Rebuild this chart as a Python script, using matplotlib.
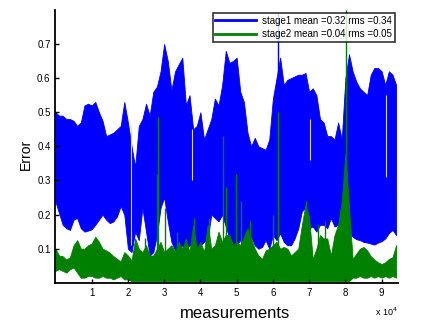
import numpy as np
import matplotlib
matplotlib.use("Agg")
import matplotlib.pyplot as plt
from matplotlib.lines import Line2D
from matplotlib.ticker import FuncFormatter

plt.rcParams['font.family'] = ['Liberation Sans', 'DejaVu Sans']

# sample positions (measurements), every 1000
measurements = np.arange(0, 95000, 1000)

stage1_upper = [0.50, 0.49, 0.49, 0.48, 0.48, 0.475, 0.46, 0.47, 0.52, 0.525,
                0.52, 0.53, 0.50, 0.475, 0.43, 0.435, 0.44, 0.45, 0.46, 0.53,
                0.47, 0.40, 0.34, 0.46, 0.48, 0.525, 0.49, 0.56, 0.575, 0.62,
                0.70, 0.65, 0.565, 0.62, 0.64, 0.66, 0.52, 0.55, 0.45, 0.46,
                0.50, 0.42, 0.45, 0.48, 0.54, 0.52, 0.58, 0.68, 0.645, 0.65,
                0.66, 0.56, 0.53, 0.44, 0.40, 0.425, 0.40, 0.395, 0.39, 0.42,
                0.54, 0.60, 0.66, 0.58, 0.595, 0.60, 0.605, 0.61, 0.61, 0.615,
                0.56, 0.57, 0.55, 0.48, 0.47, 0.43, 0.43, 0.42, 0.47, 0.42,
                0.60, 0.67, 0.62, 0.59, 0.57, 0.56, 0.55, 0.61, 0.63, 0.63,
                0.62, 0.58, 0.62, 0.61, 0.58]
stage1_lower = [0.238, 0.204, 0.17, 0.16, 0.155, 0.185, 0.19, 0.16, 0.15, 0.153,
                0.157, 0.17, 0.185, 0.20, 0.185, 0.175, 0.18, 0.195, 0.225, 0.20,
                0.10, 0.09, 0.15, 0.125, 0.22, 0.15, 0.08, 0.09, 0.14, 0.22,
                0.25, 0.18, 0.12, 0.095, 0.09, 0.11, 0.10, 0.11, 0.11, 0.10,
                0.11, 0.12, 0.13, 0.20, 0.19, 0.18, 0.20, 0.165, 0.13, 0.10,
                0.11, 0.125, 0.12, 0.12, 0.135, 0.11, 0.10, 0.105, 0.125, 0.10,
                0.14, 0.125, 0.145, 0.12, 0.11, 0.11, 0.13, 0.16, 0.21, 0.22,
                0.16, 0.165, 0.15, 0.17, 0.17, 0.16, 0.19, 0.165, 0.17, 0.19,
                0.17, 0.15, 0.135, 0.128, 0.125, 0.12, 0.118, 0.115, 0.112, 0.118,
                0.122, 0.13, 0.146, 0.155, 0.14]
stage2_upper = [0.10, 0.08, 0.078, 0.068, 0.075, 0.11, 0.125, 0.10, 0.10, 0.11,
                0.115, 0.135, 0.12, 0.10, 0.095, 0.088, 0.078, 0.07, 0.063, 0.09,
                0.08, 0.065, 0.13, 0.10, 0.09, 0.11, 0.08, 0.08, 0.10, 0.12,
                0.09, 0.10, 0.11, 0.09, 0.12, 0.10, 0.13, 0.09, 0.17, 0.10,
                0.12, 0.09, 0.17, 0.10, 0.11, 0.15, 0.12, 0.14, 0.14, 0.11,
                0.12, 0.11, 0.135, 0.16, 0.13, 0.10, 0.08, 0.07, 0.095, 0.10,
                0.11, 0.12, 0.10, 0.105, 0.10, 0.08, 0.09, 0.10, 0.17, 0.23,
                0.19, 0.07, 0.10, 0.14, 0.13, 0.13, 0.08, 0.14, 0.17, 0.24,
                0.38, 0.22, 0.07, 0.085, 0.10, 0.105, 0.095, 0.078, 0.068, 0.06,
                0.055, 0.06, 0.07, 0.075, 0.11]
stage2_lower = [0.035, 0.04, 0.035, 0.03, 0.04, 0.045, 0.03, 0.015, 0.015, 0.02,
                0.02, 0.015, 0.015, 0.02, 0.015, 0.015, 0.01, 0.015, 0.02, 0.01,
                0.01, 0.005, 0.005, 0.005, 0.005, 0.005, 0.005, 0.005, 0.005, 0.005,
                0.005, 0.005, 0.005, 0.005, 0.005, 0.005, 0.005, 0.005, 0.005, 0.005,
                0.005, 0.005, 0.005, 0.005, 0.005, 0.005, 0.005, 0.005, 0.005, 0.005,
                0.005, 0.005, 0.005, 0.005, 0.005, 0.005, 0.005, 0.005, 0.005, 0.005,
                0.005, 0.005, 0.005, 0.005, 0.005, 0.005, 0.005, 0.005, 0.005, 0.005,
                0.005, 0.005, 0.005, 0.005, 0.005, 0.005, 0.005, 0.005, 0.005, 0.005,
                0.005, 0.005, 0.015, 0.015, 0.02, 0.015, 0.015, 0.02, 0.015, 0.02,
                0.015, 0.02, 0.015, 0.02, 0.015]

# narrow spikes of stage1 (upward) and stage2
stage1_spike_x = [61500]
stage1_spike_y = [0.79]
stage2_spike_x = [24800, 27900, 28400, 30200, 33500, 38100, 42500, 46300, 47100,
                  49800, 51200, 53700, 59900, 61500, 69000, 72500, 74500, 80200]
stage2_spike_y = [0.13, 0.32, 0.485, 0.22, 0.15, 0.19, 0.19, 0.43, 0.28,
                  0.32, 0.24, 0.18, 0.20, 0.50, 0.24, 0.17, 0.18, 0.80]
# narrow gaps inside the stage1 band
gap_x = [20900, 37800, 70200, 91300]
gap_lo = [0.11, 0.30, 0.36, 0.31]
gap_hi = [0.46, 0.45, 0.48, 0.55]

legend_labels = ["stage1 mean =0.32 rms =0.34", "stage2 mean =0.04 rms =0.05"]
xticks = [10000, 20000, 30000, 40000, 50000, 60000, 70000, 80000, 90000]
yticks = [0.1, 0.2, 0.3, 0.4, 0.5, 0.6, 0.7]

BLUE = '#0000ff'
GREEN = '#008000'

fig = plt.figure(figsize=(4.33, 3.30), dpi=100)
ax = fig.add_axes([0.128, 0.143, 0.791, 0.827])

ax.fill_between(measurements, stage1_lower, stage1_upper, color=BLUE, lw=0.6, edgecolor=BLUE)
ax.vlines(stage1_spike_x, 0.5, stage1_spike_y, color=BLUE, lw=1.0)
ax.vlines(gap_x, gap_lo, gap_hi, color='#d8d8ff', lw=0.8)
ax.fill_between(measurements, stage2_lower, stage2_upper, color=GREEN, lw=0.6, edgecolor=GREEN)
ax.vlines(stage2_spike_x, 0.05, stage2_spike_y, color=GREEN, lw=1.0)

ax.set_xlim(0, 94500)
ax.set_ylim(0, 0.8)
ax.set_xticks(xticks)
ax.xaxis.set_major_formatter(FuncFormatter(lambda v, p: f"{v/1e4:g}"))
ax.set_yticks(yticks)
ax.tick_params(direction='in', length=3, width=1, labelsize=7, colors='black',
               top=False, right=False, left=True, bottom=True)
ax.tick_params(axis='x', pad=4)
for s in ['top', 'right']:
    ax.spines[s].set_visible(False)
for s in ['left', 'bottom']:
    ax.spines[s].set_linewidth(1.3)
ax.set_axisbelow(False)

ax.set_xlabel("measurements", fontsize=12)
ax.xaxis.set_label_coords(0.525, -0.085)
ax.set_ylabel("Error", fontsize=10)
ax.yaxis.set_label_coords(-0.066, 0.47)
fig.text(0.866, 0.035, "x 10$^4$", fontsize=6.5, ha='left', va='bottom')

handles = [Line2D([0], [0], color=BLUE, lw=2), Line2D([0], [0], color=GREEN, lw=2)]
leg = ax.legend(handles, legend_labels, loc='upper right',
                bbox_to_anchor=(0.912, 0.961), bbox_transform=fig.transFigure,
                borderaxespad=0, fontsize=7, frameon=True, fancybox=False,
                handlelength=4.2, handletextpad=0.6, borderpad=0.3, labelspacing=0.35)
leg.get_frame().set_edgecolor('black')
leg.get_frame().set_linewidth(1.2)

fig.savefig("out.png", dpi=100)
